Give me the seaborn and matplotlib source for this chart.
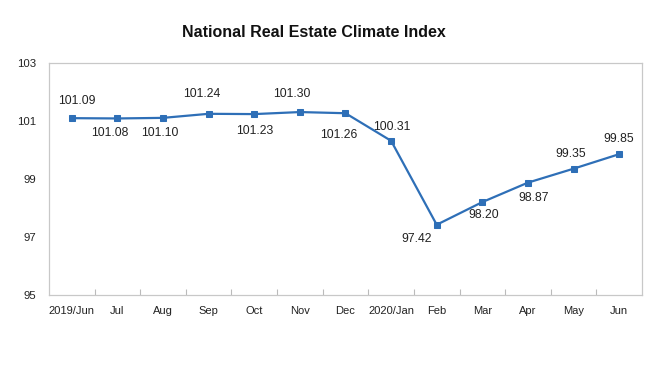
import matplotlib
matplotlib.use("Agg")
import matplotlib.pyplot as plt
import seaborn as sns
import pandas as pd
import numpy as np

months = ["2019/Jun", "Jul", "Aug", "Sep", "Oct", "Nov", "Dec",
          "2020/Jan", "Feb", "Mar", "Apr", "May", "Jun"]
index_values = [101.09, 101.08, 101.10, 101.24, 101.23, 101.30, 101.26,
                100.31, 97.42, 98.20, 98.87, 99.35, 99.85]
y_ticks = [95, 97, 99, 101, 103]

# label offsets in pixels (dx, dy) relative to each point
label_offsets = [(5, 17), (-8, -15), (-3, -15), (-7, 20), (1, -17), (-8, 18),
                 (-7, -22), (1, 14), (-20, -14), (1, -13), (6, -15), (-3, 15), (0, 15)]

sns.set_theme(style="white")
plt.rcParams['font.family'] = ['Liberation Sans', 'DejaVu Sans']

df = pd.DataFrame({"pos": np.arange(len(months)), "value": index_values})

fig = plt.figure(figsize=(6.6, 3.87), dpi=100)
ax = fig.add_axes([0.0742, 0.2377, 0.8985, 0.6003])
color = "#2E6FB7"
sns.lineplot(data=df, x="pos", y="value", ax=ax, color=color, linewidth=1.6,
             marker="s", markersize=4.5, markeredgecolor=color, markerfacecolor=color)

for x, v, (dx, dy) in zip(df["pos"], index_values, label_offsets):
    ax.annotate(f"{v:.2f}", (x, v), xytext=(dx, dy), textcoords="offset pixels",
                ha="center", va="center", fontsize=8.8, color="#222222")

ax.set_xlim(-0.5, len(months) - 0.5)
ax.set_ylim(95, 103)
ax.set_yticks(y_ticks)
ax.set_yticklabels([str(t) for t in y_ticks], fontsize=8.2, color="#222222")
ax.set_xticks(df["pos"])
ax.set_xticklabels(months, fontsize=8.0, color="#222222")
ax.set_xticks(np.arange(0.5, len(months) - 1, 1), minor=True)
ax.tick_params(axis="x", which="major", length=0, pad=8)
ax.tick_params(axis="x", which="minor", direction="in", length=4, width=0.8,
               color="#BBBBBB", bottom=True)
ax.tick_params(axis="y", which="major", length=0, pad=9)
ax.set_xlabel("")
ax.set_ylabel("")
ax.grid(False)
for s in ax.spines.values():
    s.set_color("#C8C8C8")
    s.set_linewidth(0.9)

fig.text(0.476, 0.917, "National Real Estate Climate Index", ha="center", va="center",
         fontsize=11.5, fontweight="bold", color="#111111")

fig.savefig("out.png", dpi=100, facecolor="white")
